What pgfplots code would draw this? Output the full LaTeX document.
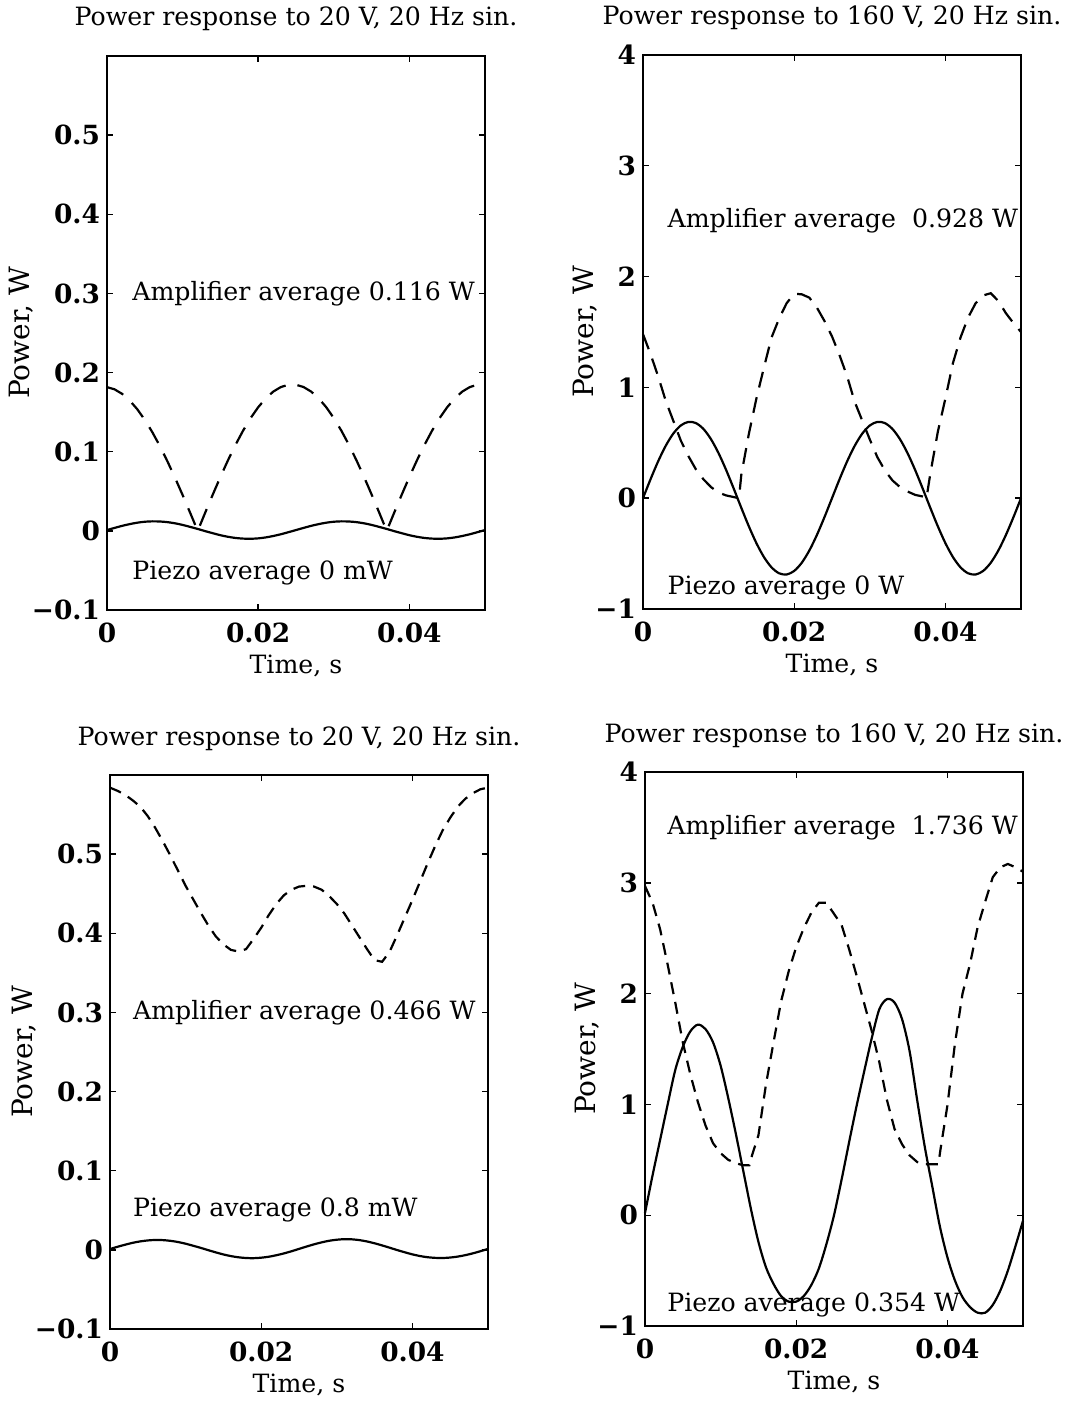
\documentclass[border=0pt]{standalone}
\usepackage{fontspec}
\setmainfont{DejaVu Serif}
\usepackage{pgfplots}
\pgfplotsset{compat=1.18}

\newcommand{\txt}{\fontsize{12.6}{14}\selectfont}
\newcommand{\ylb}{\fontsize{14}{16}\selectfont}
\newcommand{\tck}{\fontsize{13.2}{15}\selectfont\bfseries}

\tikzset{note/.style={font=\txt, anchor=west, inner sep=0pt}}

\pgfplotsset{
  panel/.style={
    scale only axis, width=189pt, height=277pt,
    xmin=0, xmax=0.05,
    xtick={0,0.02,0.04}, xticklabels={0,0.02,0.04},
    scaled x ticks=false, scaled y ticks=false,
    axis line style={line width=0.9pt},
    major tick style={line width=0.7pt, black},
    major tick length=3pt, tick align=inside,
    tick label style={font=\tck},
    xticklabel style={yshift=-3pt},
    /pgf/number format/assume math mode=true,
    xlabel={Time, s}, ylabel={Power, W},
    xlabel style={font=\txt, at={(axis description cs:0.5,0)}, anchor=center, yshift=-28pt},
    title style={font=\txt, at={(0.5,1)}, anchor=base, yshift=9pt},
    every axis plot/.append style={black, line width=1.1pt},
    no markers,
    clip=false,
  },
  ylab/.style={ylabel style={font=\ylb, at={(axis description cs:0,0.5)}, anchor=center, rotate=0, yshift=#1}},
  lowpow/.style={ymin=-0.1, ymax=0.6, ylab=43pt,
    ytick={-0.1,0,0.1,0.2,0.3,0.4,0.5},
    yticklabels={−0.1,0,0.1,0.2,0.3,0.4,0.5}},
  highpow/.style={ymin=-1, ymax=4, ylab=29pt,
    ytick={-1,0,1,2,3,4},
    yticklabels={−1,0,1,2,3,4}},
}

\begin{document}
\begin{tikzpicture}
\path[use as bounding box] (0,0) rectangle (534.5pt,700.5pt);

% top left
\begin{axis}[panel, lowpow, at={(53.5pt,395.5pt)},
  title={Power response to 20 V, 20 Hz sin.}]
\addplot[dash pattern=on 9pt off 6pt] coordinates {
(0.000,0.1816)(0.001,0.1788)(0.002,0.1731)(0.003,0.1647)(0.004,0.1537)
(0.005,0.1402)(0.006,0.1246)(0.007,0.1070)(0.008,0.0877)(0.009,0.0670)
(0.010,0.0453)(0.011,0.0228)(0.012,0.0000)(0.013,0.0232)(0.014,0.0460)
(0.015,0.0681)(0.016,0.0891)(0.017,0.1087)(0.018,0.1266)(0.019,0.1425)
(0.020,0.1562)(0.021,0.1674)(0.022,0.1760)(0.023,0.1817)(0.024,0.1846)
(0.025,0.1846)(0.026,0.1817)(0.027,0.1760)(0.028,0.1674)(0.029,0.1562)
(0.030,0.1425)(0.031,0.1266)(0.032,0.1087)(0.033,0.0891)(0.034,0.0681)
(0.035,0.0460)(0.036,0.0232)(0.037,0.0000)(0.038,0.0232)(0.039,0.0460)
(0.040,0.0681)(0.041,0.0891)(0.042,0.1087)(0.043,0.1266)(0.044,0.1425)
(0.045,0.1562)(0.046,0.1674)(0.047,0.1760)(0.048,0.1817)(0.049,0.1846)
(0.050,0.1830)};
\addplot[solid, smooth] coordinates {
(0.000,0.0010)(0.001,0.0037)(0.002,0.0063)(0.003,0.0085)(0.004,0.0103)
(0.005,0.0115)(0.006,0.0120)(0.007,0.0118)(0.008,0.0110)(0.009,0.0095)
(0.010,0.0075)(0.011,0.0050)(0.012,0.0024)(0.013,-0.0004)(0.014,-0.0030)
(0.015,-0.0055)(0.016,-0.0075)(0.017,-0.0090)(0.018,-0.0098)(0.019,-0.0100)
(0.020,-0.0095)(0.021,-0.0083)(0.022,-0.0065)(0.023,-0.0043)(0.024,-0.0017)
(0.025,0.0010)(0.026,0.0037)(0.027,0.0063)(0.028,0.0085)(0.029,0.0103)
(0.030,0.0115)(0.031,0.0120)(0.032,0.0118)(0.033,0.0110)(0.034,0.0095)
(0.035,0.0075)(0.036,0.0050)(0.037,0.0024)(0.038,-0.0004)(0.039,-0.0030)
(0.040,-0.0055)(0.041,-0.0075)(0.042,-0.0090)(0.043,-0.0098)(0.044,-0.0100)
(0.045,-0.0095)(0.046,-0.0083)(0.047,-0.0065)(0.048,-0.0043)(0.049,-0.0017)
(0.050,0.0010)};
\node[note] at (axis cs:0.0033,0.3) {Amplifier average 0.116 W};
\node[note] at (axis cs:0.0033,-0.053) {Piezo average 0 mW};
\end{axis}

% top right
\begin{axis}[panel, highpow, at={(321.5pt,396pt)},
  title={Power response to 160 V, 20 Hz sin.}]
\addplot[dash pattern=on 8pt off 5pt] coordinates {
(0.000,1.48)(0.001,1.30)(0.002,1.10)(0.003,0.88)(0.004,0.70)
(0.005,0.52)(0.006,0.38)(0.007,0.26)(0.008,0.17)(0.009,0.10)
(0.010,0.05)(0.011,0.025)(0.012,0.01)(0.0127,0.00)(0.013,0.21)
(0.014,0.58)(0.015,0.90)(0.016,1.18)(0.017,1.45)(0.018,1.62)
(0.019,1.76)(0.020,1.845)(0.021,1.84)(0.022,1.81)(0.023,1.72)
(0.024,1.60)(0.025,1.46)(0.026,1.29)(0.027,1.10)(0.028,0.87)
(0.029,0.70)(0.030,0.53)(0.031,0.37)(0.032,0.25)(0.033,0.16)
(0.034,0.10)(0.035,0.06)(0.036,0.03)(0.037,0.015)(0.0375,0.00)
(0.038,0.22)(0.039,0.60)(0.040,0.90)(0.041,1.22)(0.042,1.45)
(0.043,1.63)(0.044,1.76)(0.045,1.83)(0.046,1.85)(0.047,1.78)
(0.048,1.67)(0.049,1.58)(0.050,1.50)};
\addplot[solid, smooth] coordinates {
(0.000,0.0000)(0.001,0.1716)(0.002,0.3324)(0.003,0.4723)(0.004,0.5826)
(0.005,0.6563)(0.006,0.6886)(0.007,0.6778)(0.008,0.6243)(0.009,0.5316)
(0.010,0.4056)(0.011,0.2540)(0.012,0.0865)(0.013,-0.0865)(0.014,-0.2540)
(0.015,-0.4056)(0.016,-0.5316)(0.017,-0.6243)(0.018,-0.6778)(0.019,-0.6886)
(0.020,-0.6563)(0.021,-0.5826)(0.022,-0.4723)(0.023,-0.3324)(0.024,-0.1716)
(0.025,0.0000)(0.026,0.1716)(0.027,0.3324)(0.028,0.4723)(0.029,0.5826)
(0.030,0.6563)(0.031,0.6886)(0.032,0.6778)(0.033,0.6243)(0.034,0.5316)
(0.035,0.4056)(0.036,0.2540)(0.037,0.0865)(0.038,-0.0865)(0.039,-0.2540)
(0.040,-0.4056)(0.041,-0.5316)(0.042,-0.6243)(0.043,-0.6778)(0.044,-0.6886)
(0.045,-0.6563)(0.046,-0.5826)(0.047,-0.4723)(0.048,-0.3324)(0.049,-0.1716)
(0.050,0.0000)};
\node[note] at (axis cs:0.0032,2.5) {Amplifier average\ \ 0.928 W};
\node[note] at (axis cs:0.0032,-0.81) {Piezo average 0 W};
\end{axis}

% bottom left
\begin{axis}[panel, lowpow, at={(55pt,36pt)},
  title={Power response to 20 V, 20 Hz sin.}]
\addplot[dash pattern=on 6pt off 4pt] coordinates {
(0.000,0.584)(0.001,0.580)(0.002,0.575)(0.003,0.568)(0.004,0.560)
(0.005,0.548)(0.006,0.533)(0.007,0.516)(0.008,0.498)(0.009,0.479)
(0.010,0.460)(0.011,0.443)(0.012,0.426)(0.013,0.410)(0.014,0.396)
(0.015,0.386)(0.016,0.379)(0.017,0.377)(0.018,0.380)(0.019,0.393)
(0.020,0.407)(0.021,0.423)(0.022,0.437)(0.023,0.448)(0.024,0.455)
(0.025,0.459)(0.026,0.460)(0.027,0.459)(0.028,0.455)(0.029,0.447)
(0.030,0.437)(0.031,0.425)(0.032,0.410)(0.033,0.395)(0.034,0.380)
(0.035,0.366)(0.036,0.364)(0.037,0.377)(0.038,0.398)(0.039,0.420)
(0.040,0.442)(0.041,0.465)(0.042,0.488)(0.043,0.510)(0.044,0.530)
(0.045,0.546)(0.046,0.560)(0.047,0.570)(0.048,0.577)(0.049,0.582)
(0.050,0.584)};
\addplot[solid, smooth] coordinates {
(0.000,0.0010)(0.001,0.0039)(0.002,0.0065)(0.003,0.0089)(0.004,0.0107)
(0.005,0.0119)(0.006,0.0125)(0.007,0.0123)(0.008,0.0114)(0.009,0.0099)
(0.010,0.0078)(0.011,0.0052)(0.012,0.0025)(0.013,-0.0004)(0.014,-0.0032)
(0.015,-0.0058)(0.016,-0.0079)(0.017,-0.0094)(0.018,-0.0103)(0.019,-0.0105)
(0.020,-0.0099)(0.021,-0.0087)(0.022,-0.0068)(0.023,-0.0045)(0.024,-0.0018)
(0.025,0.0012)(0.026,0.0042)(0.027,0.0070)(0.028,0.0095)(0.029,0.0115)
(0.030,0.0128)(0.031,0.0135)(0.032,0.0133)(0.033,0.0123)(0.034,0.0106)
(0.035,0.0083)(0.036,0.0056)(0.037,0.0027)(0.038,-0.0003)(0.039,-0.0031)
(0.040,-0.0057)(0.041,-0.0078)(0.042,-0.0093)(0.043,-0.0101)(0.044,-0.0103)
(0.045,-0.0097)(0.046,-0.0085)(0.047,-0.0067)(0.048,-0.0044)(0.049,-0.0017)
(0.050,0.0012)};
\node[note] at (axis cs:0.003,0.3) {Amplifier average 0.466 W};
\node[note] at (axis cs:0.003,0.051) {Piezo average 0.8 mW};
\end{axis}

% bottom right
\begin{axis}[panel, highpow, at={(322.5pt,37.5pt)},
  title={Power response to 160 V, 20 Hz sin.}]
\addplot[dash pattern=on 6pt off 4pt] coordinates {
(0.000,2.97)(0.001,2.82)(0.002,2.58)(0.003,2.26)(0.004,1.92)
(0.005,1.56)(0.006,1.27)(0.007,1.02)(0.008,0.81)(0.009,0.65)
(0.010,0.56)(0.011,0.50)(0.012,0.47)(0.013,0.45)(0.0138,0.45)
(0.0142,0.55)(0.015,0.72)(0.016,1.18)(0.017,1.56)(0.018,1.93)
(0.019,2.20)(0.020,2.42)(0.021,2.59)(0.022,2.73)(0.023,2.82)
(0.024,2.82)(0.025,2.72)(0.026,2.62)(0.027,2.40)(0.028,2.16)
(0.029,1.91)(0.030,1.66)(0.031,1.38)(0.032,1.04)(0.033,0.78)
(0.034,0.64)(0.035,0.54)(0.036,0.48)(0.037,0.46)(0.038,0.46)
(0.0388,0.46)(0.0391,0.60)(0.040,0.99)(0.041,1.55)(0.042,2.00)
(0.043,2.27)(0.044,2.60)(0.045,2.83)(0.046,3.05)(0.047,3.14)
(0.048,3.17)(0.049,3.14)(0.050,3.10)};
\addplot[solid, smooth] coordinates {
(0.000,0.02)(0.001,0.36)(0.002,0.68)(0.003,1.00)(0.004,1.31)
(0.005,1.52)(0.006,1.66)(0.007,1.72)(0.008,1.68)(0.009,1.56)
(0.010,1.35)(0.011,1.06)(0.012,0.74)(0.013,0.40)(0.014,0.06)
(0.015,-0.24)(0.016,-0.47)(0.017,-0.62)(0.018,-0.73)(0.019,-0.78)
(0.020,-0.78)(0.021,-0.73)(0.022,-0.63)(0.023,-0.48)(0.024,-0.26)
(0.025,0.00)(0.026,0.32)(0.027,0.66)(0.028,0.99)(0.029,1.30)
(0.030,1.60)(0.031,1.86)(0.032,1.95)(0.033,1.92)(0.034,1.77)
(0.035,1.48)(0.036,1.04)(0.037,0.62)(0.038,0.26)(0.039,-0.10)
(0.040,-0.38)(0.041,-0.59)(0.042,-0.74)(0.043,-0.83)(0.044,-0.88)
(0.045,-0.88)(0.046,-0.81)(0.047,-0.68)(0.048,-0.50)(0.049,-0.28)
(0.050,-0.05)};
\node[note] at (axis cs:0.0029,3.5) {Amplifier average\ \ 1.736 W};
\node[note] at (axis cs:0.0029,-0.81) {Piezo average 0.354 W};
\end{axis}
\end{tikzpicture}
\end{document}
